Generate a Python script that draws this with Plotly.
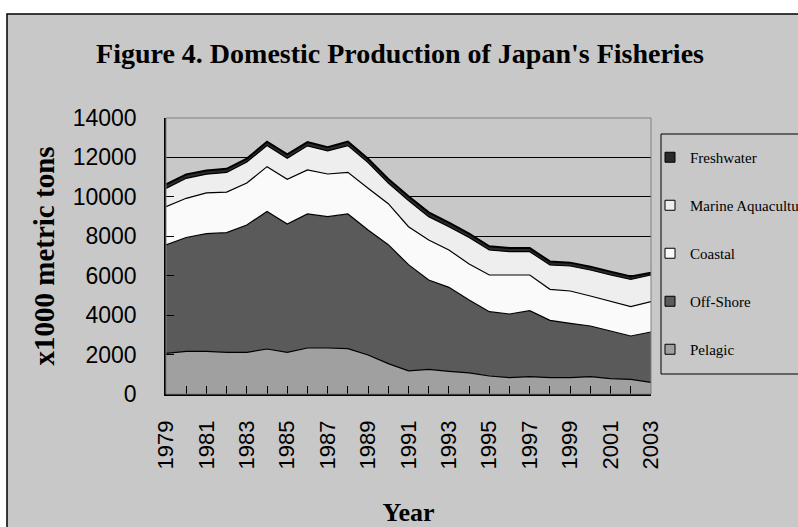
import plotly.graph_objects as go

years = list(range(1979, 2004))
pelagic = [2063, 2164, 2164, 2114, 2114, 2283, 2114, 2333, 2333, 2300, 1978, 1540, 1175,
           1251, 1150, 1070, 913, 829, 879, 829, 829, 879, 778, 744, 592]
offshore = [5495, 5776, 5966, 6070, 6459, 6977, 6510, 6798, 6663, 6831, 6341, 6035, 5385,
            4532, 4261, 3700, 3263, 3229, 3348, 2908, 2756, 2570, 2418, 2198, 2553]
coastal = [1945, 1986, 2070, 2056, 2127, 2272, 2266, 2232, 2164, 2114, 2114, 2080, 1928,
           2025, 1894, 1824, 1861, 1979, 1810, 1572, 1640, 1522, 1522, 1488, 1539]
marine = [927, 1014, 950, 1000, 1070, 1068, 1065, 1227, 1170, 1355, 1302, 1045, 1319,
          1188, 1183, 1346, 1268, 1183, 1183, 1235, 1268, 1319, 1319, 1387, 1353]
freshwater = [200, 200, 190, 180, 170, 190, 200, 190, 190, 200, 200, 210, 220,
              220, 210, 200, 190, 180, 180, 180, 170, 170, 170, 150, 110]

series = [
    ("Pelagic", pelagic, "#a0a0a0"),
    ("Off-Shore", offshore, "#5a5a5a"),
    ("Coastal", coastal, "#fafafa"),
    ("Marine Aquaculture", marine, "#eeeeee"),
    ("Freshwater", freshwater, "#2a2a2a"),
]

W, H = 798, 527
PL, PR, PT, PB = 166, 651, 118, 394  # plot area pixels


def px_x(p):
    return (p - PL) / (PR - PL)


def px_y(p):
    return (PB - p) / (PB - PT)


fig = go.Figure()
for name, vals, col in series:
    fig.add_trace(go.Scatter(
        x=years, y=vals, name=name, stackgroup="one", mode="lines",
        line=dict(color="black", width=1.2 if name != "Freshwater" else 2),
        fillcolor=col, showlegend=False, hoverinfo="skip"))

# legend entries (square swatches)
for i, (name, vals, col) in enumerate(reversed(series)):
    fig.add_trace(go.Scatter(
        x=[None], y=[None], mode="markers", name=name,
        marker=dict(symbol="square", size=10, color=col, line=dict(color="black", width=1)),
        legendgroup=f"g{i}", showlegend=True))

shapes = [
    # chart area
    dict(type="rect", xref="paper", yref="paper", x0=px_x(7), x1=px_x(820), y0=px_y(540), y1=px_y(14),
         fillcolor="#c8c8c8", line=dict(color="black", width=1.5), layer="below"),
    # plot border
    dict(type="rect", xref="paper", yref="paper", x0=0, x1=1, y0=0, y1=1,
         line=dict(color="#808080", width=1), fillcolor="rgba(0,0,0,0)", layer="above"),
    # legend box
    dict(type="rect", xref="paper", yref="paper", x0=px_x(661), x1=px_x(830), y0=px_y(374), y1=px_y(134),
         line=dict(color="black", width=1), fillcolor="#c8c8c8", layer="below"),
]

fig.update_layout(
    width=W, height=H,
    margin=dict(l=PL, r=W - PR, t=PT, b=H - PB, autoexpand=False),
    paper_bgcolor="white", plot_bgcolor="#c0c0c0",
    shapes=shapes,
    title=dict(text="<b>Figure 4. Domestic Production of Japan's Fisheries</b>",
               font=dict(family="Liberation Serif", size=28, color="black"),
               xref="container", yref="container", x=400 / W, xanchor="center",
               y=1 - 53 / H, yanchor="middle"),
    legend=dict(xref="container", yref="container", x=650 / W, xanchor="left",
                y=1 - 141 / H, yanchor="top", bgcolor="rgba(0,0,0,0)", borderwidth=0,
                font=dict(family="Liberation Serif", size=15, color="black"),
                tracegroupgap=25.5, traceorder="grouped"),
    showlegend=True,
)

fig.update_xaxes(
    range=[1979, 2003], tick0=1979, dtick=2, tickangle=-90,
    ticks="inside", ticklen=8, tickcolor="black",
    minor=dict(dtick=1, tick0=1979, ticks="inside", ticklen=8, tickcolor="black", showgrid=False),
    showgrid=False, showline=True, linecolor="black", linewidth=1.5,
    tickfont=dict(family="Liberation Sans", size=22, color="black"),
    ticklabelstandoff=16,
    title=dict(text="<b>Year</b>", font=dict(family="Liberation Serif", size=26, color="black"),
               standoff=34),
    zeroline=False, automargin=False,
)
fig.update_yaxes(
    range=[0, 14000], dtick=2000, tickformat="d", ticks="inside", ticklen=8, tickcolor="black",
    showgrid=True, gridcolor="black", gridwidth=1,
    showline=True, linecolor="black", linewidth=1.5,
    tickfont=dict(family="Liberation Sans", size=23, color="black"),
    ticklabelstandoff=23,
    title=dict(text="<b>x1000 metric tons</b>", font=dict(family="Liberation Serif", size=29, color="black"),
               standoff=10),
    zeroline=False, automargin=False,
)

fig.write_html("out.html")
